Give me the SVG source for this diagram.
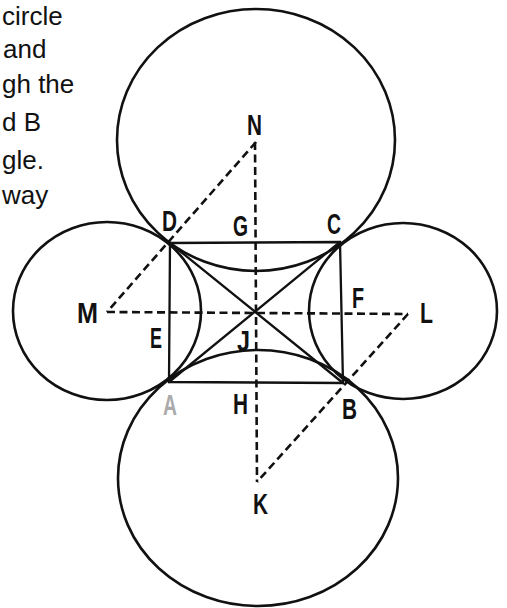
<svg xmlns="http://www.w3.org/2000/svg" width="507" height="608" viewBox="0 0 507 608">
<style>
.c{fill:none;stroke:#111;stroke-width:2.6}
.s{fill:none;stroke:#111;stroke-width:2.3;stroke-linecap:round}
.d{fill:none;stroke:#111;stroke-width:2.6;stroke-dasharray:8 4.5}
.lb{font-family:"Liberation Sans",Arial,sans-serif;font-size:29px;font-weight:bold;fill:#111}
.tx{font-family:"Liberation Sans",Arial,sans-serif;font-size:26px;fill:#111}
</style>
<rect width="507" height="608" fill="#fff"/>
<g id="page-text">
<text class="tx" x="2" y="25">circle</text>
<text class="tx" x="3" y="58">and</text>
<text class="tx" x="2" y="93">gh the</text>
<text class="tx" x="2" y="131">d B</text>
<text class="tx" x="2" y="169">gle.</text>
<text class="tx" x="2" y="204">way</text>
</g>
<g id="circles">
<ellipse id="circle-N" class="c" cx="256" cy="140" rx="139" ry="131"/>
<ellipse id="circle-K" class="c" cx="258" cy="478" rx="140" ry="128"/>
<ellipse id="circle-M" class="c" cx="107" cy="311" rx="94" ry="89"/>
<ellipse id="circle-L" class="c" cx="403" cy="311" rx="94" ry="88"/>
</g>
<g id="connectors">
<polygon class="s" points="170,243 340,242 343,383 169,382"/>
<line class="s" x1="170" y1="243" x2="343" y2="383"/>
<line class="s" x1="340" y1="242" x2="169" y2="382"/>
<line class="d" x1="255" y1="142" x2="257" y2="482"/>
<line class="d" x1="107" y1="312" x2="408" y2="314"/>
<line class="d" x1="256" y1="142" x2="107" y2="312"/>
<line class="d" x1="408" y1="314" x2="257" y2="482"/>
</g>
<g id="labels">
<text id="N" class="lb" x="247" y="135" textLength="15" lengthAdjust="spacingAndGlyphs">N</text>
<text id="G" class="lb" x="233" y="236" textLength="15" lengthAdjust="spacingAndGlyphs">G</text>
<text id="C" class="lb" x="327" y="234" textLength="14" lengthAdjust="spacingAndGlyphs">C</text>
<text id="D" class="lb" x="162" y="231" textLength="15" lengthAdjust="spacingAndGlyphs">D</text>
<text id="F" class="lb" x="352" y="308" textLength="12" lengthAdjust="spacingAndGlyphs">F</text>
<text id="E" class="lb" x="150" y="348" textLength="12" lengthAdjust="spacingAndGlyphs">E</text>
<text id="J" class="lb" x="237" y="351" textLength="13" lengthAdjust="spacingAndGlyphs">J</text>
<text id="A" class="lb" x="163" y="415" textLength="14" lengthAdjust="spacingAndGlyphs" style="fill:#aaa">A</text>
<text id="H" class="lb" x="233" y="414" textLength="15" lengthAdjust="spacingAndGlyphs">H</text>
<text id="B" class="lb" x="342" y="419" textLength="15" lengthAdjust="spacingAndGlyphs">B</text>
<text id="M" class="lb" x="77" y="323" textLength="21" lengthAdjust="spacingAndGlyphs">M</text>
<text id="L" class="lb" x="420" y="323" textLength="13" lengthAdjust="spacingAndGlyphs">L</text>
<text id="K" class="lb" x="253" y="514" textLength="15" lengthAdjust="spacingAndGlyphs">K</text>
</g>
</svg>
